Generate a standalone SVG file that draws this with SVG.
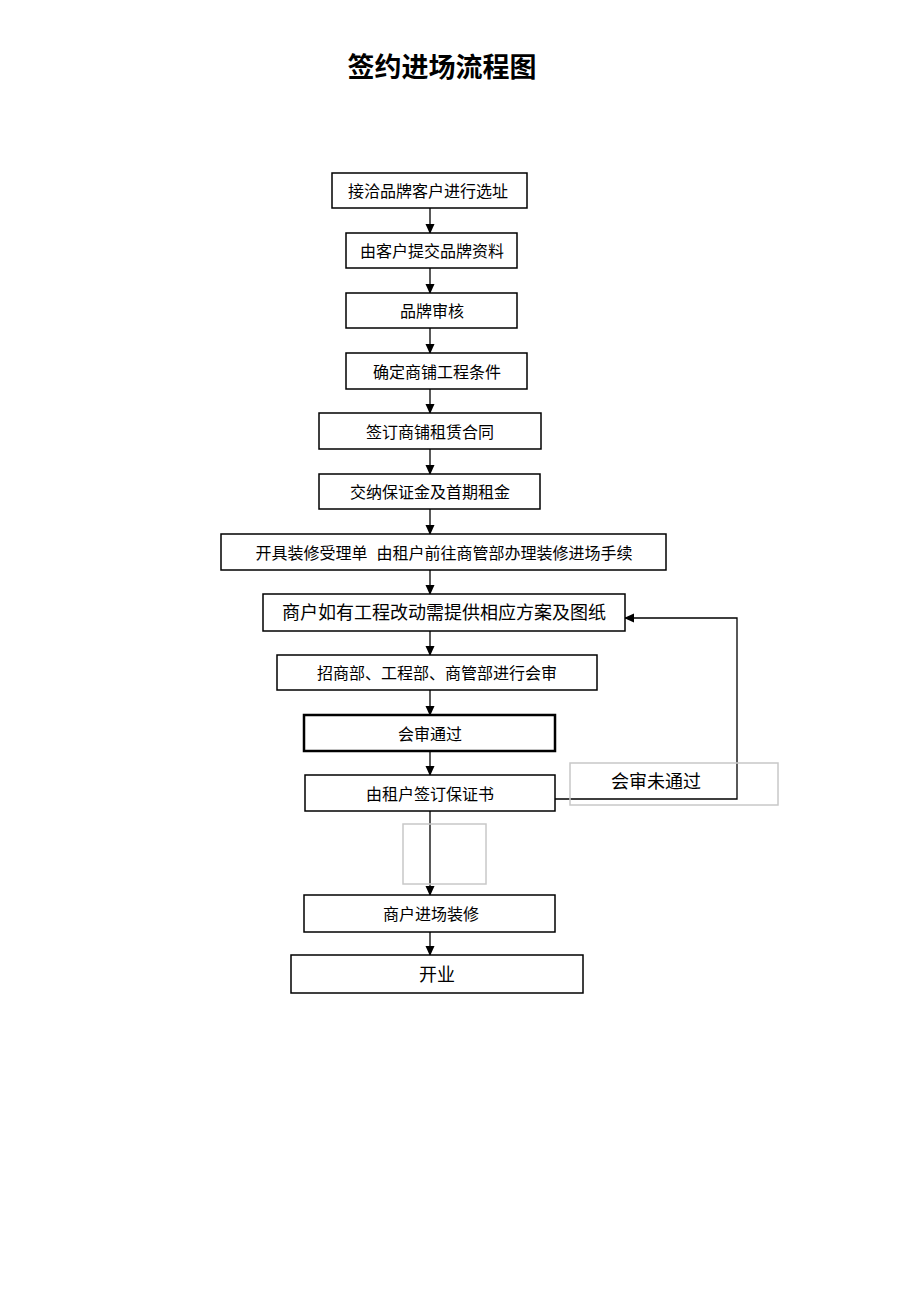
<svg xmlns="http://www.w3.org/2000/svg" width="920" height="1302" viewBox="0 0 920 1302">
<style>
.box{fill:#fff;stroke:#000;stroke-width:1.5}
.thick{stroke-width:2.5}
.gray{fill:none;stroke:#c8c8c8;stroke-width:1.5}
.t{font-family:"Liberation Sans","Noto Sans CJK SC",sans-serif;font-size:16px;text-anchor:middle;fill:#000}
.t18{font-size:18px}
.ln{stroke:#000;stroke-width:1.3;fill:none}
</style>
<defs>
<marker id="ah" markerWidth="10" markerHeight="10" refX="9" refY="5" orient="auto" markerUnits="userSpaceOnUse">
<path d="M0,0.5 L10,5 L0,9.5 Z" fill="#000"/>
</marker>
</defs>
<rect width="920" height="1302" fill="#fff"/>
<text x="442" y="77" font-family="'Liberation Sans','Noto Sans CJK SC',sans-serif" font-size="27" font-weight="bold" text-anchor="middle">签约进场流程图</text>
<g id="connectors">
<line class="ln" x1="430" y1="208" x2="430" y2="233" marker-end="url(#ah)"/>
<line class="ln" x1="430" y1="268" x2="430" y2="293" marker-end="url(#ah)"/>
<line class="ln" x1="430" y1="328" x2="430" y2="353" marker-end="url(#ah)"/>
<line class="ln" x1="430" y1="389" x2="430" y2="413" marker-end="url(#ah)"/>
<line class="ln" x1="430" y1="449" x2="430" y2="474" marker-end="url(#ah)"/>
<line class="ln" x1="430" y1="509" x2="430" y2="534" marker-end="url(#ah)"/>
<line class="ln" x1="430" y1="570" x2="430" y2="594" marker-end="url(#ah)"/>
<line class="ln" x1="430" y1="631" x2="430" y2="655" marker-end="url(#ah)"/>
<line class="ln" x1="430" y1="690" x2="430" y2="715" marker-end="url(#ah)"/>
<line class="ln" x1="430" y1="751" x2="430" y2="775" marker-end="url(#ah)"/>
<line class="ln" x1="430" y1="811" x2="430" y2="895" marker-end="url(#ah)"/>
<line class="ln" x1="430" y1="932" x2="430" y2="955" marker-end="url(#ah)"/>
<polyline class="ln" points="555,799 737,799 737,618 625,618" marker-end="url(#ah)"/>
</g>
<g id="n1"><rect class="box" x="332" y="173" width="195" height="35"/><text class="t" x="428" y="197">接洽品牌客户进行选址</text></g>
<g id="n2"><rect class="box" x="346" y="233" width="171" height="35"/><text class="t" x="432" y="257">由客户提交品牌资料</text></g>
<g id="n3"><rect class="box" x="346" y="293" width="171" height="35"/><text class="t" x="432" y="317">品牌审核</text></g>
<g id="n4"><rect class="box" x="346" y="353" width="181" height="36"/><text class="t" x="437" y="378">确定商铺工程条件</text></g>
<g id="n5"><rect class="box" x="319" y="413" width="222" height="36"/><text class="t" x="430" y="438">签订商铺租赁合同</text></g>
<g id="n6"><rect class="box" x="319" y="474" width="221" height="35"/><text class="t" x="430" y="498">交纳保证金及首期租金</text></g>
<g id="n7"><rect class="box" x="221" y="534" width="445" height="36"/><text class="t" x="444" y="559" xml:space="preserve">开具装修受理单  由租户前往商管部办理装修进场手续</text></g>
<g id="n8"><rect class="box" x="263" y="594" width="362" height="37"/><text class="t t18" x="444" y="619">商户如有工程改动需提供相应方案及图纸</text></g>
<g id="n9"><rect class="box" x="277" y="655" width="320" height="35"/><text class="t" x="437" y="679">招商部、工程部、商管部进行会审</text></g>
<g id="n10"><rect class="box thick" x="304" y="715" width="251" height="36"/><text class="t" x="430" y="740">会审通过</text></g>
<g id="n11"><rect class="box" x="305" y="775" width="250" height="36"/><text class="t" x="430" y="800">由租户签订保证书</text></g>
<g id="n14"><rect class="gray" x="570" y="763" width="208" height="42"/><text class="t t18" x="656" y="788">会审未通过</text></g>
<g id="n15"><rect class="gray" x="403" y="824" width="83" height="60"/></g>
<g id="n12"><rect class="box" x="304" y="895" width="251" height="37"/><text class="t" x="431" y="920">商户进场装修</text></g>
<g id="n13"><rect class="box" x="291" y="955" width="292" height="38"/><text class="t t18" x="437" y="981">开业</text></g>
</svg>
